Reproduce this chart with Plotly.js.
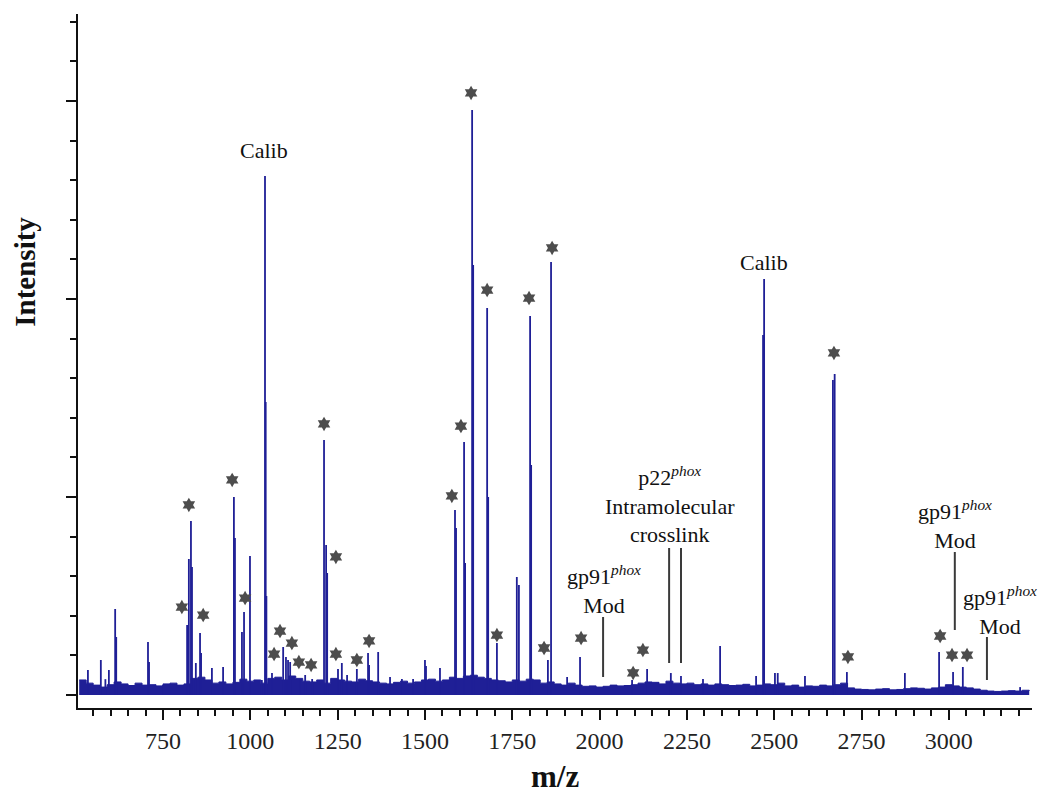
<!DOCTYPE html>
<html>
<head>
<meta charset="utf-8">
<script src="https://cdn.plot.ly/plotly-3.0.1.min.js"></script>
<style>html,body{margin:0;padding:0;background:#fff;}#chart{width:1050px;height:801px;}</style>
</head>
<body>
<div id="chart"></div>
<script>
// ---- Data ----
// Peak positions (m/z) and intensities (arbitrary units)
const peakMz = [535, 572, 585, 595, 613, 616, 707, 710, 750, 819, 824, 830, 833, 844, 856, 859, 890, 922,
  953, 956, 976, 982, 999, 1033, 1042, 1044, 1046, 1062, 1094, 1102, 1108, 1114, 1142, 1157, 1177,
  1211, 1217, 1220, 1251, 1262, 1277, 1305, 1337, 1340, 1366, 1400, 1434, 1466, 1500, 1503, 1543,
  1586, 1589, 1612, 1615, 1635, 1638, 1678, 1681, 1706, 1763, 1769, 1801, 1804, 1852, 1861, 1907, 1944,
  2093, 2136, 2204, 2233, 2296, 2345, 2448, 2468, 2471, 2502, 2510, 2588, 2668, 2673, 2708, 2874,
  2972, 3012, 3040, 3204];
const peakInt = [631, 884, 400, 631, 2172, 1465, 1338, 833, 250, 1768, 3434, 4394, 3232, 808, 1566, 1060, 682, 707,
  5000, 3964, 1591, 2096, 3510, 379, 13105, 7400, 2500, 555, 1212, 960, 884, 833, 379, 505, 404,
  6439, 3788, 3081, 657, 808, 505, 657, 1060, 757, 1086, 455, 404, 404, 884, 732, 682,
  4671, 4217, 6388, 3333, 14771, 10858, 9772, 5000, 1313, 2980, 2778, 9570, 5808, 884, 10933, 455, 960,
  379, 657, 555, 480, 404, 1237, 480, 9090, 10504, 555, 555, 480, 7954, 8105, 580, 555,
  1086, 580, 707, 200];

// Baseline noise level, one value per 20 m/z step starting at 510
const noiseStartMz = 510;
const noiseStepMz = 20;
const noiseLevel = [
  380, 300, 250, 200, 260, 330, 280, 240, 300, 250,
  260, 230, 280, 300, 250, 280, 420, 450, 380, 300,
  330, 280, 320, 400, 350, 380, 300, 420, 450, 380,
  480, 420, 350, 330, 380, 300, 420, 380, 350, 330,
  400, 360, 330, 300, 280, 320, 350, 300, 330, 380,
  400, 350, 380, 450, 420, 480, 500, 450, 420, 380,
  360, 330, 380, 350, 400, 380, 300, 330, 280, 250,
  300, 250, 220, 230, 200, 220, 250, 230, 240, 260,
  300, 330, 320, 280, 350, 300, 280, 300, 260, 280,
  250, 280, 260, 240, 250, 270, 230, 250, 280, 260,
  300, 230, 250, 200, 230, 220, 250, 230, 260, 300,
  180, 150, 140, 130, 150, 160, 130, 140, 160, 180,
  170, 150, 180, 200, 260, 230, 200, 180, 150, 120,
  100, 90, 100, 110, 100, 120, 100];

// Starred (identified) peaks: star m/z and height
const starMz = [824, 804, 865, 948, 985, 1068, 1085, 1119, 1139, 1174, 1245, 1245, 1305, 1340, 1211,
  1577, 1603, 1632, 1678, 1706, 1798, 1864, 1841, 1947, 2096, 2124, 2671, 2711, 2975, 3009, 3052];
const starInt = [4798, 2222, 2020, 5429, 2449, 1035, 1616, 1313, 833, 758, 3485, 1035, 884, 1364, 6843,
  5025, 6792, 15201, 10226, 1515, 10024, 11287, 1187, 1439, 556, 1136, 8636, 960, 1490, 1010, 1010];

// Text labels
const labelText = ["Calib", "Calib",
  "p22<sup><i>phox</i></sup><br>Intramolecular<br>crosslink",
  "gp91<sup><i>phox</i></sup><br>Mod",
  "gp91<sup><i>phox</i></sup><br>Mod",
  "gp91<sup><i>phox</i></sup><br>Mod"];
const labelMz = [1040, 2471, 2202, 2013, 3017, 3146];
const labelInt = [13761, 10933, 4798, 2664, 4305, 2146];

// Pointer lines under labels: m/z, bottom, top
const pointerMz = [2199, 2233, 2010, 3017, 3109];
const pointerLow = [808, 808, 455, 1641, 379];
const pointerHigh = [3712, 3712, 1970, 3611, 1465];

// Axis ticks
const xTickVals = [750, 1000, 1250, 1500, 1750, 2000, 2250, 2500, 2750, 3000];
const xTickText = ["750", "1000", "1250", "1500", "1750", "2000", "2250", "2500", "2750", "3000"];

// ---- Build traces ----
const blue = '#1f1f96';
const font = 'Liberation Serif, Times New Roman, serif';

const nx = [], ny = [];
noiseLevel.forEach((v, i) => { nx.push(noiseStartMz + i * noiseStepMz); ny.push(v); });

const px = [], py = [];
peakMz.forEach((m, i) => { px.push(m, m, null); py.push(0, peakInt[i], null); });

const traces = [
  {x: nx, y: ny, type: 'scatter', mode: 'lines', line: {color: blue, width: 1, shape: 'hv'},
   fill: 'tozeroy', fillcolor: blue, hoverinfo: 'skip'},
  {x: px, y: py, type: 'scatter', mode: 'lines', line: {color: blue, width: 1.8}, hoverinfo: 'skip'},
  {x: starMz, y: starInt, type: 'scatter', mode: 'markers',
   marker: {symbol: 'hexagram', size: 11, color: '#4d4d4d', line: {width: 0}}, hoverinfo: 'skip'}
];

const shapes = pointerMz.map((m, i) => ({type: 'line', xref: 'x', yref: 'y', x0: m, x1: m,
  y0: pointerLow[i], y1: pointerHigh[i], line: {color: '#3a3a3a', width: 2}}));

const annotations = labelText.map((t, i) => ({text: t, x: labelMz[i], y: labelInt[i], xref: 'x', yref: 'y',
  showarrow: false, xanchor: 'center', yanchor: 'middle', align: 'center',
  font: {family: font, size: 22, color: '#111'}}));

annotations.push({text: '<b>m/z</b>', xref: 'paper', yref: 'paper', x: 0.5, y: -0.099, showarrow: false,
  xanchor: 'center', yanchor: 'middle', font: {family: font, size: 31, color: '#111'}});
annotations.push({text: '<b>Intensity</b>', xref: 'paper', yref: 'paper', x: -0.055, y: 0.628, showarrow: false,
  xanchor: 'center', yanchor: 'middle', textangle: -90, font: {family: font, size: 29, color: '#111'}});

const layout = {
  width: 1050, height: 801,
  margin: {l: 78, r: 18, t: 14, b: 93},
  paper_bgcolor: '#fff', plot_bgcolor: '#fff',
  showlegend: false,
  font: {family: font, color: '#222'},
  xaxis: {range: [506.6, 3238], showgrid: false, zeroline: false, showline: true, linecolor: '#111', linewidth: 2,
    ticks: 'outside', ticklen: 10, tickwidth: 2, tickcolor: '#111',
    tickmode: 'array', tickvals: xTickVals, ticktext: xTickText,
    tickfont: {family: font, size: 24, color: '#222'}, ticklabelstandoff: 0,
    minor: {dtick: 50, tick0: 0, ticks: 'outside', ticklen: 6, tickwidth: 2, tickcolor: '#111', showgrid: false}},
  yaxis: {range: [-328, 17195], showgrid: false, zeroline: false, showline: true, linecolor: '#111', linewidth: 2,
    ticks: 'outside', ticklen: 10, tickwidth: 2, tickcolor: '#111', tick0: 0, dtick: 5000, showticklabels: false,
    minor: {dtick: 1000, tick0: 0, ticks: 'outside', ticklen: 6, tickwidth: 2, tickcolor: '#111', showgrid: false}},
  shapes: shapes,
  annotations: annotations
};

Plotly.newPlot('chart', traces, layout, {staticPlot: true, displayModeBar: false});
</script>
</body>
</html>
